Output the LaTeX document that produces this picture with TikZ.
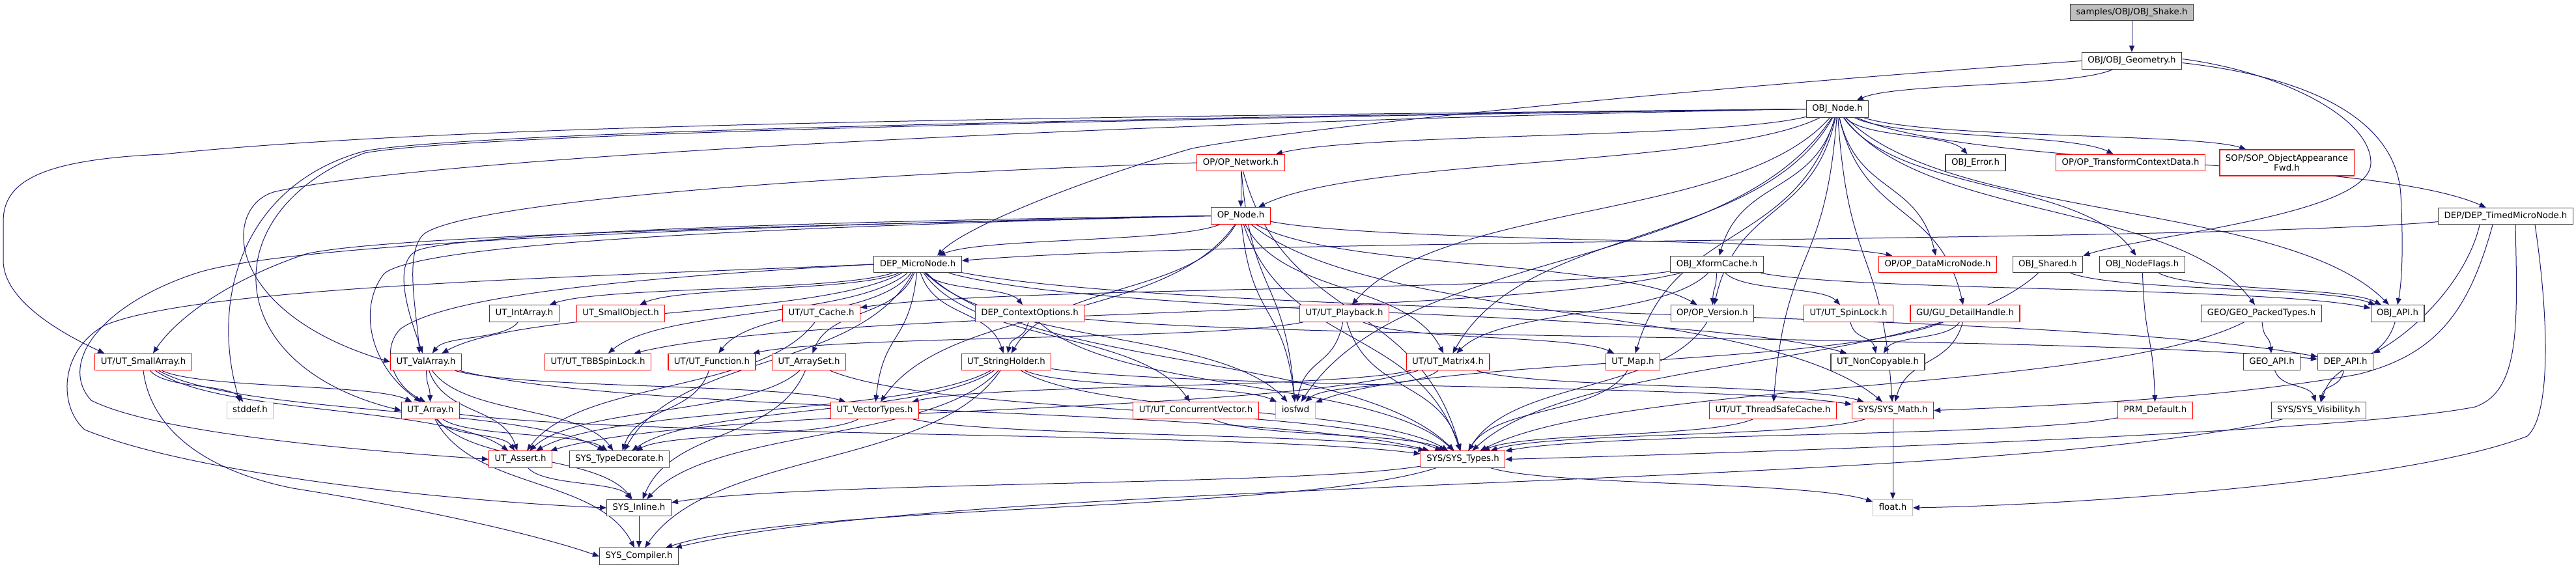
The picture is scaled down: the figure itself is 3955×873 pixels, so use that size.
\documentclass[tikz,border=0pt]{standalone}
\usepackage{fontspec}
\setmainfont{DejaVu Sans}
\usetikzlibrary{arrows.meta,calc}
\pgfdeclarelayer{bg}
\pgfsetlayers{bg,main}
\definecolor{edgec}{HTML}{191970}
\definecolor{gsev}{HTML}{BFBFBF}
\definecolor{gfour}{HTML}{404040}
\tikzset{
 nd/.style={draw=gfour, fill=white, line width=1.2pt, rectangle, minimum height=25.5pt, inner xsep=9pt, inner ysep=0pt, text height=10pt, text depth=3.2pt, font=\fontsize{13.3}{15.5}\selectfont, text=black},
 rd/.style={nd, draw=red},
 gr/.style={nd, draw=gsev},
 rootnd/.style={nd, fill=gsev},
 gvE/.style={draw=edgec, line width=1pt, -{Triangle[length=10pt,width=8pt]}},
}
\newcommand\gvedge[3][]{\draw[gvE,#1] let \p1=(#2.center), \p2=(#3.center) in (#2) .. controls ({\x1+0.2*(\x2-\x1)},{\y1+0.55*(\y2-\y1)}) and ({\x1+0.8*(\x2-\x1)},{\y1+0.45*(\y2-\y1)}) .. (#3);}
\begin{document}
\begin{tikzpicture}[x=1pt,y=-1pt]
\useasboundingbox (0,0) rectangle (3955,873);
% ---- nodes ----
\node[rootnd] (shake) at (3273,19) {samples/OBJ/OBJ\_Shake.h};
\node[nd] (geom) at (3273,93.5) {OBJ/OBJ\_Geometry.h};
\node[nd] (objnode) at (2821,167.5) {OBJ\_Node.h};
\node[rd] (opnet) at (1905,250) {OP/OP\_Network.h};
\node[nd] (objerr) at (3033,250) {OBJ\_Error.h};
\node[rd] (optcd) at (3271,250) {OP/OP\_TransformContextData.h};
\node[rd, minimum height=40pt, align=center, text height=, text depth=] (sopfwd) at (3511,250) {SOP/SOP\_ObjectAppearance\\Fwd.h};
\node[rd] (opnode) at (1905,331.5) {OP\_Node.h};
\node[nd] (deptimed) at (3847,332) {DEP/DEP\_TimedMicroNode.h};
\node[nd] (depmicro) at (1409,406) {DEP\_MicroNode.h};
\node[nd] (xform) at (2636,406) {OBJ\_XformCache.h};
\node[rd] (opdata) at (2975,406) {OP/OP\_DataMicroNode.h};
\node[nd] (objshared) at (3144,406) {OBJ\_Shared.h};
\node[nd] (nodeflags) at (3289,406) {OBJ\_NodeFlags.h};
\node[nd] (intarray) at (805,481.5) {UT\_IntArray.h};
\node[rd] (smallobj) at (953,481.5) {UT\_SmallObject.h};
\node[rd] (cache) at (1261,481.5) {UT/UT\_Cache.h};
\node[rd] (ctxopt) at (1581,481.5) {DEP\_ContextOptions.h};
\node[rd] (playback) at (2064,481.5) {UT/UT\_Playback.h};
\node[nd] (opver) at (2629,481.5) {OP/OP\_Version.h};
\node[rd] (spinlock) at (2838,481.5) {UT/UT\_SpinLock.h};
\node[rd] (gudh) at (3017,481.5) {GU/GU\_DetailHandle.h};
\node[nd] (packed) at (3472,481.5) {GEO/GEO\_PackedTypes.h};
\node[nd] (objapi) at (3681,481.5) {OBJ\_API.h};
\node[rd] (smallarray) at (220,556) {UT/UT\_SmallArray.h};
\node[rd] (valarray) at (654,556) {UT\_ValArray.h};
\node[rd] (tbb) at (918,556) {UT/UT\_TBBSpinLock.h};
\node[rd] (function) at (1093,556) {UT/UT\_Function.h};
\node[rd] (arrayset) at (1242,556) {UT\_ArraySet.h};
\node[rd] (strholder) at (1545,556) {UT\_StringHolder.h};
\node[rd] (matrix4) at (2223,556) {UT/UT\_Matrix4.h};
\node[rd] (map) at (2507,556) {UT\_Map.h};
\node[nd] (noncopy) at (2883,556) {UT\_NonCopyable.h};
\node[nd] (geoapi) at (3488,556) {GEO\_API.h};
\node[nd] (depapi) at (3601,556) {DEP\_API.h};
\node[gr] (stddef) at (384,630.5) {stddef.h};
\node[rd] (array) at (661,630.5) {UT\_Array.h};
\node[rd] (vectypes) at (1343,630.5) {UT\_VectorTypes.h};
\node[rd] (concvec) at (1836,630.5) {UT/UT\_ConcurrentVector.h};
\node[gr] (iosfwd) at (1989,630.5) {iosfwd};
\node[rd] (tscache) at (2722,630.5) {UT/UT\_ThreadSafeCache.h};
\node[rd] (sysmath) at (2906,630.5) {SYS/SYS\_Math.h};
\node[rd] (prm) at (3309,630.5) {PRM\_Default.h};
\node[nd] (sysvis) at (3560,630.5) {SYS/SYS\_Visibility.h};
\node[rd] (assert) at (799,705.5) {UT\_Assert.h};
\node[nd] (typedec) at (951,705.5) {SYS\_TypeDecorate.h};
\node[rd] (systypes) at (2246,705.5) {SYS/SYS\_Types.h};
\node[nd] (inline) at (981,780) {SYS\_Inline.h};
\node[gr] (float) at (2906,780) {float.h};
\node[nd] (compiler) at (981,854.5) {SYS\_Compiler.h};
% ---- edges ----
\begin{pgfonlayer}{bg}
\gvedge{shake}{geom}
\gvedge{geom}{objnode}
\draw[gvE] (geom.west) .. controls (2600,135) and (2000,195) .. (1830,228) .. controls (1650,280) and (1480,350) .. ([xshift=30pt]depmicro.north);
\draw[gvE] ([yshift=3pt]geom.east) .. controls (3500,110) and (3640,180) .. (3640,250) .. controls (3640,330) and (3300,360) .. (objshared.north east);
\draw[gvE] ([yshift=-3pt]geom.east) .. controls (3560,120) and (3680,190) .. (3686,300) .. controls (3690,380) and (3688,430) .. (objapi.north);
% OBJ_Node
\gvedge{objnode}{opnet}
\gvedge{objnode}{opnode}
\gvedge{objnode}{objerr}
\gvedge{objnode}{optcd}
\gvedge{objnode}{sopfwd}
\gvedge{objnode}{deptimed}
\gvedge{objnode}{xform}
\gvedge{objnode}{opdata}
\gvedge{objnode}{nodeflags}
\gvedge{objnode}{objapi}
\gvedge{objnode}{playback}
\gvedge{objnode}{matrix4}
\gvedge{objnode}{map}
\gvedge{objnode}{opver}
\gvedge{objnode}{gudh}
\gvedge{objnode}{packed}
\gvedge{objnode}{tscache}
\gvedge{objnode}{sysmath}
\gvedge{objnode}{iosfwd}
\draw[gvE] (objnode.west) .. controls (1600,180) and (700,190) .. (250,237) .. controls (60,245) and (5,280) .. (5,340) -- (5,400) .. controls (5,460) and (90,510) .. ([xshift=15pt]smallarray.north west);
\draw[gvE] (objnode.west) .. controls (1800,185) and (650,240) .. (420,295) .. controls (340,320) and (345,480) .. (valarray.west);
\draw[gvE] (objnode.west) .. controls (1600,182) and (700,205) .. (560,232) .. controls (380,280) and (320,450) .. ([xshift=-16pt]stddef.north);
\draw[gvE] (objnode.west) .. controls (1600,184) and (700,208) .. (560,235) .. controls (330,320) and (330,560) .. (array.west);
% OP_Network
\gvedge{opnet}{opnode}
\gvedge{opnet}{systypes}
\gvedge{opnet}{iosfwd}
\draw[gvE] (opnet.west) .. controls (1100,275) and (700,320) .. (650,360) .. controls (620,390) and (640,480) .. ([xshift=-10pt]valarray.north);
% OP_Node
\gvedge{opnode}{depmicro}
\gvedge{opnode}{opdata}
\gvedge{opnode}{strholder}
\gvedge{opnode}{vectypes}
\gvedge{opnode}{iosfwd}
\gvedge{opnode}{systypes}
\gvedge{opnode}{matrix4}
\gvedge{opnode}{opver}
\gvedge{opnode}{sysmath}
\draw[gvE] (opnode.west) .. controls (1300,345) and (600,360) .. (470,390) .. controls (350,430) and (270,490) .. ([xshift=15pt]smallarray.north);
\draw[gvE] (opnode.west) .. controls (1200,340) and (700,360) .. (640,385) .. controls (600,405) and (630,490) .. ([xshift=-5pt]valarray.north);
\draw[gvE] (opnode.west) .. controls (1200,348) and (650,372) .. (590,420) .. controls (550,470) and (565,560) .. ([xshift=-15pt]array.north);
\draw[gvE] (opnode.west) .. controls (1200,345) and (450,370) .. (300,420) .. controls (150,470) and (90,560) .. (140,615) .. controls (250,670) and (600,695) .. (assert.west);
% DEP_TimedMicroNode
\gvedge{deptimed}{depmicro}
\draw[gvE] ([xshift=-40pt]deptimed.south) .. controls (3790,420) and (3720,500) .. (depapi.north east);
\draw[gvE] ([xshift=-20pt]deptimed.south) .. controls (3790,480) and (3740,545) .. (3620,575) .. controls (3400,615) and (3100,625) .. (sysmath.east);
\draw[gvE] ([xshift=15pt]deptimed.south) .. controls (3865,500) and (3870,600) .. (3800,625) .. controls (3600,665) and (2700,695) .. (systypes.east);
\draw[gvE] ([xshift=45pt]deptimed.south) .. controls (3915,500) and (3915,640) .. (3880,670) .. controls (3700,740) and (3200,775) .. (float.east);
% DEP_MicroNode
\gvedge{depmicro}{intarray}
\gvedge{depmicro}{smallobj}
\gvedge{depmicro}{valarray}
\gvedge{depmicro}{tbb}
\gvedge{depmicro}{function}
\gvedge{depmicro}{arrayset}
\gvedge{depmicro}{ctxopt}
\gvedge{depmicro}{strholder}
\gvedge{depmicro}{concvec}
\gvedge{depmicro}{iosfwd}
\gvedge{depmicro}{noncopy}
\gvedge{depmicro}{depapi}
\gvedge{depmicro}{systypes}
\gvedge{depmicro}{typedec}
\gvedge{depmicro}{vectypes}
\draw[gvE] (depmicro.west) .. controls (900,430) and (680,460) .. (615,505) .. controls (585,535) and (600,590) .. ([xshift=-8pt]array.north);
\draw[gvE] (depmicro.west) .. controls (900,425) and (300,440) .. (160,500) .. controls (90,540) and (90,625) .. (130,660) .. controls (300,730) and (700,770) .. (inline.west);
% OBJ_XformCache
\gvedge{xform}{objapi}
\gvedge{xform}{cache}
\gvedge{xform}{opver}
\gvedge{xform}{spinlock}
\gvedge{xform}{matrix4}
\gvedge{xform}{tbb}
% others
\gvedge{objshared}{objapi}
\gvedge{objshared}{systypes}
\gvedge{nodeflags}{objapi}
\gvedge{nodeflags}{prm}
\gvedge{intarray}{valarray}
\gvedge{cache}{assert}
\gvedge{ctxopt}{strholder}
\gvedge{ctxopt}{depapi}
\gvedge{ctxopt}{systypes}
\gvedge{playback}{function}
\gvedge{playback}{map}
\gvedge{playback}{iosfwd}
\gvedge{playback}{systypes}
\gvedge{opver}{systypes}
\gvedge{spinlock}{noncopy}
\gvedge{gudh}{noncopy}
\gvedge{gudh}{sysmath}
\gvedge{gudh}{iosfwd}
\gvedge{packed}{geoapi}
\gvedge{packed}{systypes}
\gvedge{objapi}{sysvis}
\gvedge{smallarray}{stddef}
\gvedge{smallarray}{array}
\gvedge{smallarray}{assert}
\gvedge{smallarray}{typedec}
\draw[gvE] (smallarray.south) .. controls (230,650) and (300,720) .. (450,750) .. controls (700,790) and (850,830) .. (compiler.west);
\gvedge{valarray}{array}
\gvedge{valarray}{assert}
\gvedge{valarray}{vectypes}
\gvedge{valarray}{systypes}
\gvedge{valarray}{typedec}
\gvedge{function}{typedec}
\gvedge{arrayset}{assert}
\gvedge{arrayset}{inline}
\gvedge{arrayset}{systypes}
\gvedge{strholder}{assert}
\gvedge{strholder}{typedec}
\gvedge{strholder}{inline}
\gvedge{strholder}{compiler}
\gvedge{strholder}{systypes}
\gvedge{strholder}{sysmath}
\gvedge{strholder}{iosfwd}
\gvedge{matrix4}{vectypes}
\gvedge{matrix4}{iosfwd}
\gvedge{matrix4}{sysmath}
\gvedge{matrix4}{assert}
\gvedge{map}{systypes}
\gvedge{geoapi}{sysvis}
\gvedge{depapi}{sysvis}
\gvedge{array}{assert}
\gvedge{array}{typedec}
\gvedge{array}{inline}
\gvedge{array}{compiler}
\gvedge{array}{systypes}
\gvedge{vectypes}{systypes}
\gvedge{vectypes}{typedec}
\gvedge{concvec}{systypes}
\gvedge{tscache}{systypes}
\gvedge{sysmath}{float}
\gvedge{sysmath}{systypes}
\gvedge{prm}{systypes}
\gvedge{sysvis}{compiler}
\gvedge{assert}{inline}
\gvedge{systypes}{inline}
\gvedge{systypes}{compiler}
\gvedge{systypes}{float}
\gvedge{inline}{compiler}
\end{pgfonlayer}
\end{tikzpicture}
\end{document}
